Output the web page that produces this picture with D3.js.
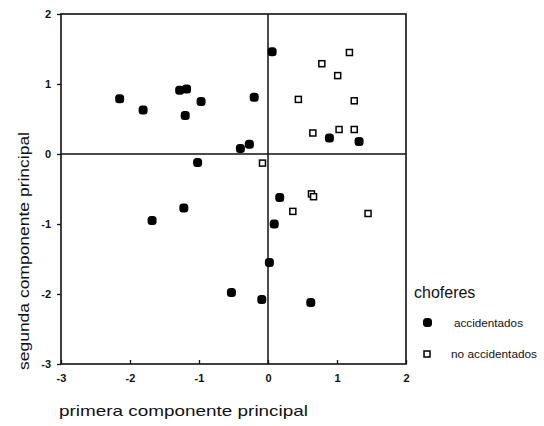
<!DOCTYPE html>
<html lang="es">
<head>
    <meta charset="UTF-8">
    <title>Componentes principales</title>
    <script src="https://d3js.org/d3.v7.min.js"></script>
    <style>
        body { margin: 0; background: #fff; }
        text { font-family: "Liberation Sans", Arial, sans-serif; fill: #111; }
        .tick text { font-size: 11px; font-weight: bold; }
    </style>
</head>
<body>
    <svg width="544" height="426"></svg>

    <script>
        // choferes accidentados (puntos llenos)
        const accX = [-2.15, -1.81, -1.28, -1.18, -1.20, -0.97, -0.20, -0.40, -0.27, -1.02, 0.06,
                      0.89, 1.32, -1.68, -1.22, -0.53, -0.09, 0.09, 0.02, 0.17, 0.62];
        const accY = [0.79, 0.63, 0.91, 0.93, 0.55, 0.75, 0.81, 0.08, 0.14, -0.12, 1.46,
                      0.23, 0.18, -0.95, -0.77, -1.98, -2.08, -1.00, -1.55, -0.62, -2.12];

        // choferes no accidentados (cuadrados vacios)
        const noAccX = [1.18, 0.78, 1.01, 0.44, 1.25, 0.65, 1.03, 1.25, -0.08, 0.63, 0.66, 0.36, 1.45];
        const noAccY = [1.45, 1.29, 1.12, 0.78, 0.76, 0.30, 0.35, 0.35, -0.13, -0.57, -0.61, -0.82, -0.85];

        const xTicks = [-3, -2, -1, 0, 1, 2];
        const yTicks = [-3, -2, -1, 0, 1, 2];

        const svg = d3.select("svg");
        const mLeft = 61, mRight = 406, mTop = 14, mBottom = 364;

        const x = d3.scaleLinear().domain([-3, 2]).range([mLeft, mRight]);
        const y = d3.scaleLinear().domain([-3, 2]).range([mBottom, mTop]);

        // ejes (guion simple como en el original)
        const fmt = d => String(d);
        const xAxis = svg.append("g")
            .attr("transform", `translate(0,${mBottom})`)
            .call(d3.axisBottom(x).tickValues(xTicks).tickFormat(fmt).tickSizeInner(-4).tickSizeOuter(0).tickPadding(10));
        const yAxis = svg.append("g")
            .attr("transform", `translate(${mLeft},0)`)
            .call(d3.axisLeft(y).tickValues(yTicks).tickFormat(fmt).tickSizeInner(4).tickSizeOuter(0).tickPadding(6));
        [xAxis, yAxis].forEach(a => {
            a.select(".domain").remove();
            a.selectAll("line").attr("stroke", "#111").attr("stroke-width", 1.3);
        });

        // marco y lineas de cero
        svg.append("rect")
            .attr("x", mLeft).attr("y", mTop)
            .attr("width", mRight - mLeft).attr("height", mBottom - mTop)
            .attr("fill", "none").attr("stroke", "#111").attr("stroke-width", 1.6);
        svg.append("line")
            .attr("x1", x(0)).attr("x2", x(0)).attr("y1", mTop).attr("y2", mBottom)
            .attr("stroke", "#111").attr("stroke-width", 1.5);
        svg.append("line")
            .attr("x1", mLeft).attr("x2", mRight).attr("y1", y(0)).attr("y2", y(0))
            .attr("stroke", "#111").attr("stroke-width", 1.5);

        // puntos
        const acc = accX.map((v, i) => ({ x: v, y: accY[i] }));
        const noAcc = noAccX.map((v, i) => ({ x: v, y: noAccY[i] }));

        svg.append("g").selectAll("rect")
            .data(acc)
            .enter().append("rect")
            .attr("x", d => x(d.x) - 4.5)
            .attr("y", d => y(d.y) - 4.5)
            .attr("width", 9).attr("height", 9)
            .attr("rx", 3.5)
            .attr("fill", "#000");

        svg.append("g").selectAll("rect")
            .data(noAcc)
            .enter().append("rect")
            .attr("x", d => x(d.x) - 3)
            .attr("y", d => y(d.y) - 3)
            .attr("width", 6).attr("height", 6)
            .attr("fill", "#fff")
            .attr("stroke", "#000").attr("stroke-width", 1.5);

        // titulos de ejes
        svg.append("text")
            .attr("x", 59).attr("y", 416)
            .attr("font-size", 15)
            .attr("textLength", 249).attr("lengthAdjust", "spacingAndGlyphs")
            .text("primera componente principal");
        svg.append("text")
            .attr("transform", "translate(29,370) rotate(-90)")
            .attr("font-size", 15)
            .attr("textLength", 238).attr("lengthAdjust", "spacingAndGlyphs")
            .text("segunda componente principal");

        // leyenda
        svg.append("text")
            .attr("x", 414).attr("y", 298)
            .attr("font-size", 16)
            .text("choferes");
        svg.append("rect")
            .attr("x", 423).attr("y", 318).attr("width", 9).attr("height", 9).attr("rx", 3.5)
            .attr("fill", "#000");
        svg.append("text")
            .attr("x", 454).attr("y", 327)
            .attr("font-size", 10.5)
            .attr("textLength", 69).attr("lengthAdjust", "spacingAndGlyphs")
            .text("accidentados");
        svg.append("rect")
            .attr("x", 424).attr("y", 351).attr("width", 6).attr("height", 6)
            .attr("fill", "#fff").attr("stroke", "#000").attr("stroke-width", 1.5);
        svg.append("text")
            .attr("x", 451).attr("y", 358)
            .attr("font-size", 10.5)
            .attr("textLength", 86).attr("lengthAdjust", "spacingAndGlyphs")
            .text("no accidentados");
    </script>
</body>
</html>
